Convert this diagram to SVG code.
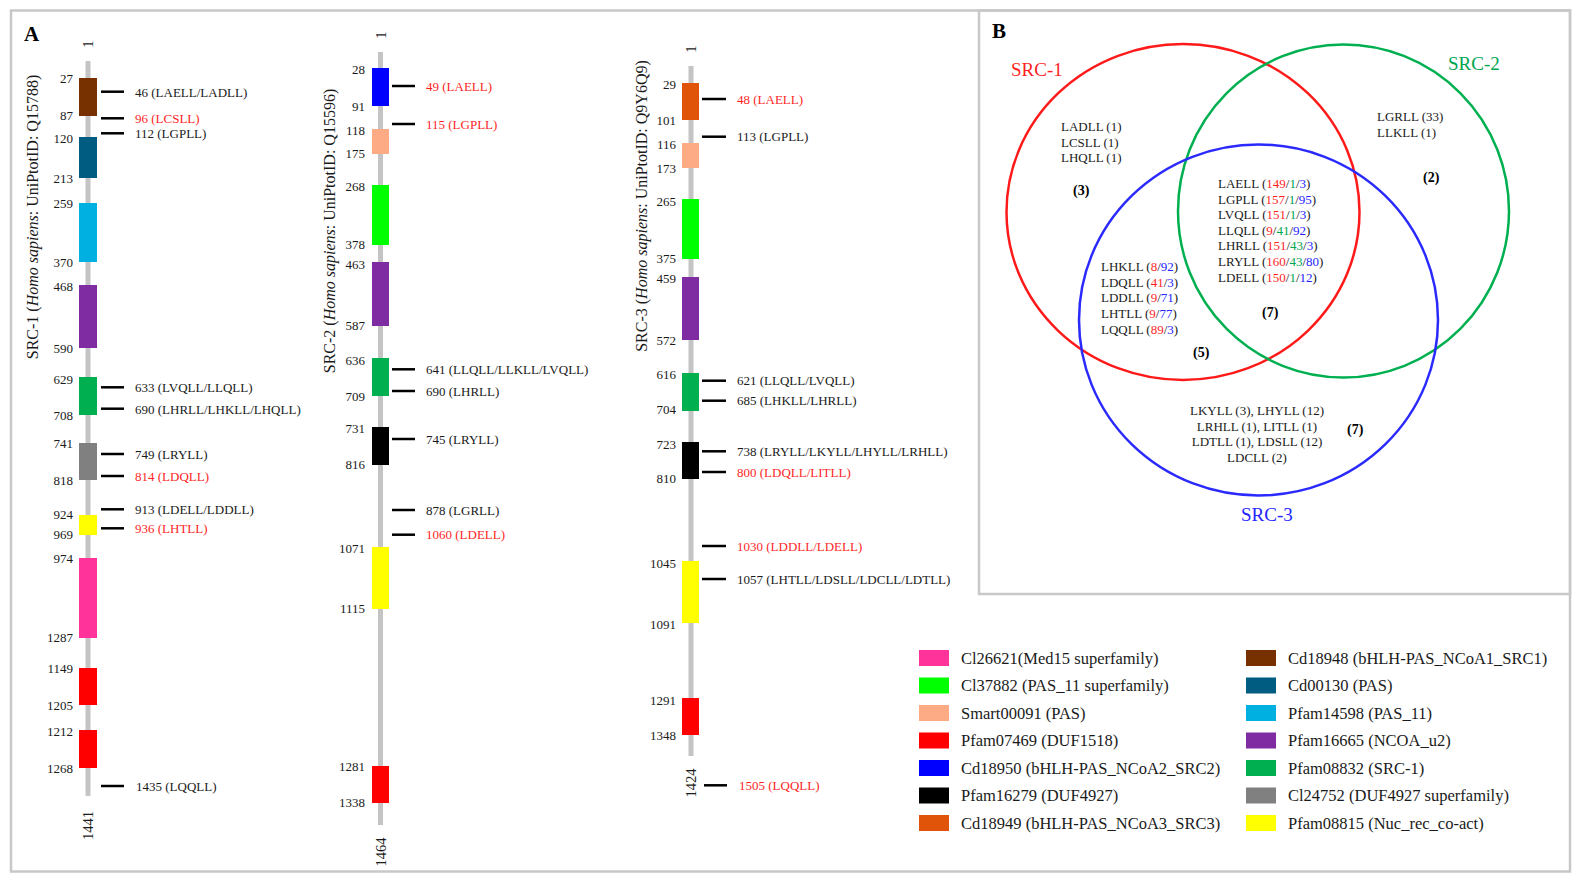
<svg xmlns="http://www.w3.org/2000/svg" width="1580" height="882" viewBox="0 0 1580 882">
<style>
text{font-family:"Liberation Serif","Times New Roman",serif;fill:#1a1a1a}
.num{font-size:13px;text-anchor:end}
.mot{font-size:13px}
.rt{fill:#ff1f1f}
.end{font-size:14.5px;text-anchor:middle;dominant-baseline:central}
.ttl{font-size:16px;text-anchor:middle;dominant-baseline:central}
.bar{stroke:#c4c4c4;stroke-width:5}
.tick{stroke:#000;stroke-width:2.5}
.frame{fill:none;stroke:#c8c8c8;stroke-width:2.5}
.vn{font-size:13px}
.vb{font-size:14px;font-weight:bold;fill:#000}
.r{fill:#ff1f1f}.g{fill:#00a550}.b{fill:#2424ff}
.lg{font-size:16.5px}
.pnl{font-size:21px;font-weight:bold;fill:#000}
.c1{fill:#ff3399}.c2{fill:#00ff00}.c3{fill:#fcab84}.c4{fill:#ff0000}.c5{fill:#0000ff}.c6{fill:#000}.c7{fill:#e0540a}
.c8{fill:#773000}.c9{fill:#005c80}.c10{fill:#00b0e0}.c11{fill:#7f2ca2}.c12{fill:#00b050}.c13{fill:#808080}.c14{fill:#ffff00}
</style>
<rect width="1580" height="882" fill="#fff"/>
<rect class="frame" x="11" y="10.5" width="1559" height="861"/>
<rect class="frame" x="979" y="10.5" width="591" height="583.5"/>
<text class="pnl" x="24" y="41">A</text>
<text class="pnl" x="992" y="38">B</text>

<g id="src1">
<line class="bar" x1="88" y1="61" x2="88" y2="796"/>
<rect class="c8" x="79" y="78" width="18" height="38"/>
<rect class="c9" x="79" y="137" width="18" height="41"/>
<rect class="c10" x="79" y="203" width="18" height="59"/>
<rect class="c11" x="79" y="285" width="18" height="63"/>
<rect class="c12" x="79" y="377" width="18" height="38"/>
<rect class="c13" x="79" y="443" width="18" height="37"/>
<rect class="c14" x="79" y="515" width="18" height="20"/>
<rect class="c1" x="79" y="558" width="18" height="80"/>
<rect class="c4" x="79" y="668" width="18" height="37"/>
<rect class="c4" x="79" y="730" width="18" height="38"/>
<text class="num" x="73" y="83">27</text><text class="num" x="73" y="120">87</text>
<text class="num" x="73" y="142.5">120</text><text class="num" x="73" y="183">213</text>
<text class="num" x="73" y="208">259</text><text class="num" x="73" y="267">370</text>
<text class="num" x="73" y="290.5">468</text><text class="num" x="73" y="353">590</text>
<text class="num" x="73" y="384">629</text><text class="num" x="73" y="420">708</text>
<text class="num" x="73" y="448">741</text><text class="num" x="73" y="485">818</text>
<text class="num" x="73" y="519">924</text><text class="num" x="73" y="539">969</text>
<text class="num" x="73" y="563">974</text><text class="num" x="73" y="642">1287</text>
<text class="num" x="73" y="673">1149</text><text class="num" x="73" y="710">1205</text>
<text class="num" x="73" y="735.5">1212</text><text class="num" x="73" y="773">1268</text>
<text class="end" transform="translate(88,44) rotate(-90)">1</text>
<text class="end" transform="translate(88,825.5) rotate(-90)">1441</text>
<text class="ttl" transform="translate(32,217) rotate(-90)">SRC-1 (<tspan font-style="italic">Homo sapiens</tspan>: UniPtotID: Q15788)</text>
<g id="src1-ticks">
<line class="tick" x1="101" y1="91.7" x2="124" y2="91.7"/>
<line class="tick" x1="101" y1="118.3" x2="124" y2="118.3"/>
<line class="tick" x1="101" y1="133.3" x2="124" y2="133.3"/>
<line class="tick" x1="101" y1="387.3" x2="124" y2="387.3"/>
<line class="tick" x1="101" y1="408.7" x2="124" y2="408.7"/>
<line class="tick" x1="101" y1="454" x2="124" y2="454"/>
<line class="tick" x1="101" y1="476" x2="124" y2="476"/>
<line class="tick" x1="101" y1="509.3" x2="124" y2="509.3"/>
<line class="tick" x1="101" y1="528.3" x2="124" y2="528.3"/>
<line class="tick" x1="101" y1="786" x2="124" y2="786"/>
</g>
<text class="mot" x="135" y="96.5">46 (LAELL/LADLL)</text>
<text class="mot rt" x="135" y="123">96 (LCSLL)</text>
<text class="mot" x="135" y="138">112 (LGPLL)</text>
<text class="mot" x="135" y="392">633 (LVQLL/LLQLL)</text>
<text class="mot" x="135" y="413.5">690 (LHRLL/LHKLL/LHQLL)</text>
<text class="mot" x="135" y="458.5">749 (LRYLL)</text>
<text class="mot rt" x="135" y="480.5">814 (LDQLL)</text>
<text class="mot" x="135" y="514">913 (LDELL/LDDLL)</text>
<text class="mot rt" x="135" y="533">936 (LHTLL)</text>
<text class="mot" x="136" y="790.5">1435 (LQQLL)</text>
</g>

<g id="src2">
<line class="bar" x1="380.5" y1="52" x2="380.5" y2="825"/>
<rect class="c5" x="372" y="68" width="17" height="38"/>
<rect class="c3" x="372" y="129" width="17" height="25"/>
<rect class="c2" x="372" y="185" width="17" height="60"/>
<rect class="c11" x="372" y="262" width="17" height="64"/>
<rect class="c12" x="372" y="358" width="17" height="38"/>
<rect class="c6" x="372" y="427" width="17" height="38"/>
<rect class="c14" x="372" y="547" width="17" height="62"/>
<rect class="c4" x="372" y="766" width="17" height="37"/>
<text class="num" x="365" y="74">28</text><text class="num" x="365" y="110.5">91</text>
<text class="num" x="365" y="135">118</text><text class="num" x="365" y="158">175</text>
<text class="num" x="365" y="191">268</text><text class="num" x="365" y="249">378</text>
<text class="num" x="365" y="269">463</text><text class="num" x="365" y="330">587</text>
<text class="num" x="365" y="365">636</text><text class="num" x="365" y="401">709</text>
<text class="num" x="365" y="433">731</text><text class="num" x="365" y="469">816</text>
<text class="num" x="365" y="552.5">1071</text><text class="num" x="365" y="613">1115</text>
<text class="num" x="365" y="771">1281</text><text class="num" x="365" y="807">1338</text>
<text class="end" transform="translate(381,35) rotate(-90)">1</text>
<text class="end" transform="translate(381,852) rotate(-90)">1464</text>
<text class="ttl" transform="translate(329,231) rotate(-90)">SRC-2 (<tspan font-style="italic">Homo sapiens</tspan>: UniPtotID: Q15596)</text>
<g id="src2-ticks">
<line class="tick" x1="392" y1="86" x2="415" y2="86"/>
<line class="tick" x1="392" y1="124" x2="415" y2="124"/>
<line class="tick" x1="392" y1="369.3" x2="415" y2="369.3"/>
<line class="tick" x1="392" y1="391" x2="415" y2="391"/>
<line class="tick" x1="392" y1="439" x2="415" y2="439"/>
<line class="tick" x1="392" y1="510" x2="415" y2="510"/>
<line class="tick" x1="392" y1="534.7" x2="415" y2="534.7"/>
</g>
<text class="mot rt" x="426" y="90.5">49 (LAELL)</text>
<text class="mot rt" x="426" y="128.5">115 (LGPLL)</text>
<text class="mot" x="426" y="374">641 (LLQLL/LLKLL/LVQLL)</text>
<text class="mot" x="426" y="395.5">690 (LHRLL)</text>
<text class="mot" x="426" y="443.5">745 (LRYLL)</text>
<text class="mot" x="426" y="514.5">878 (LGRLL)</text>
<text class="mot rt" x="426" y="539">1060 (LDELL)</text>
</g>

<g id="src3">
<line class="bar" x1="691" y1="66" x2="691" y2="756"/>
<rect class="c7" x="682" y="83" width="17" height="37"/>
<rect class="c3" x="682" y="143" width="17" height="25"/>
<rect class="c2" x="682" y="199" width="17" height="60"/>
<rect class="c11" x="682" y="277" width="17" height="63"/>
<rect class="c12" x="682" y="373" width="17" height="38"/>
<rect class="c6" x="682" y="442" width="17" height="37"/>
<rect class="c14" x="682" y="561" width="17" height="62"/>
<rect class="c4" x="682" y="698" width="17" height="37"/>
<text class="num" x="676" y="89">29</text><text class="num" x="676" y="125">101</text>
<text class="num" x="676" y="149">116</text><text class="num" x="676" y="172.5">173</text>
<text class="num" x="676" y="206">265</text><text class="num" x="676" y="263">375</text>
<text class="num" x="676" y="283">459</text><text class="num" x="676" y="345">572</text>
<text class="num" x="676" y="379">616</text><text class="num" x="676" y="414">704</text>
<text class="num" x="676" y="448.5">723</text><text class="num" x="676" y="483">810</text>
<text class="num" x="676" y="568">1045</text><text class="num" x="676" y="629">1091</text>
<text class="num" x="676" y="705">1291</text><text class="num" x="676" y="740">1348</text>
<text class="end" transform="translate(691,49) rotate(-90)">1</text>
<text class="end" transform="translate(691,783) rotate(-90)">1424</text>
<text class="ttl" transform="translate(641,206) rotate(-90)">SRC-3 (<tspan font-style="italic">Homo sapiens</tspan>: UniPtotID: Q9Y6Q9)</text>
<g id="src3-ticks">
<line class="tick" x1="702" y1="99" x2="726" y2="99"/>
<line class="tick" x1="702" y1="136.7" x2="726" y2="136.7"/>
<line class="tick" x1="702" y1="380.7" x2="726" y2="380.7"/>
<line class="tick" x1="702" y1="400.7" x2="726" y2="400.7"/>
<line class="tick" x1="702" y1="451.3" x2="726" y2="451.3"/>
<line class="tick" x1="702" y1="472" x2="726" y2="472"/>
<line class="tick" x1="702" y1="546" x2="726" y2="546"/>
<line class="tick" x1="702" y1="579" x2="726" y2="579"/>
<line class="tick" x1="704" y1="785.3" x2="727" y2="785.3"/>
</g>
<text class="mot rt" x="737" y="103.5">48 (LAELL)</text>
<text class="mot" x="737" y="141">113 (LGPLL)</text>
<text class="mot" x="737" y="385">621 (LLQLL/LVQLL)</text>
<text class="mot" x="737" y="405">685 (LHKLL/LHRLL)</text>
<text class="mot" x="737" y="456">738 (LRYLL/LKYLL/LHYLL/LRHLL)</text>
<text class="mot rt" x="737" y="476.5">800 (LDQLL/LITLL)</text>
<text class="mot rt" x="737" y="550.5">1030 (LDDLL/LDELL)</text>
<text class="mot" x="737" y="583.5">1057 (LHTLL/LDSLL/LDCLL/LDTLL)</text>
<text class="mot rt" x="739" y="790">1505 (LQQLL)</text>
</g>

<g id="venn">
<ellipse cx="1183" cy="212" rx="176.5" ry="168" fill="none" stroke="#ff1a1a" stroke-width="2.5"/>
<ellipse cx="1343.5" cy="211" rx="165.5" ry="166.5" fill="none" stroke="#00b050" stroke-width="2.5"/>
<ellipse cx="1258.5" cy="320" rx="179.5" ry="175.5" fill="none" stroke="#2a2aff" stroke-width="2.5"/>
<text x="1011" y="76" font-size="19" class="r">SRC-1</text>
<text x="1448" y="70" font-size="19" class="g">SRC-2</text>
<text x="1241" y="521" font-size="19" class="b">SRC-3</text>
<text class="vn" x="1061" y="131">LADLL (1)</text>
<text class="vn" x="1061" y="146.5">LCSLL (1)</text>
<text class="vn" x="1061" y="162">LHQLL (1)</text>
<text class="vb" x="1073" y="195">(3)</text>
<text class="vn" x="1377" y="121">LGRLL (33)</text>
<text class="vn" x="1377" y="136.5">LLKLL (1)</text>
<text class="vb" x="1423" y="182">(2)</text>
<text class="vn" x="1218" y="188">LAELL (<tspan class="r">149</tspan>/<tspan class="g">1</tspan>/<tspan class="b">3</tspan>)</text>
<text class="vn" x="1218" y="203.6">LGPLL (<tspan class="r">157</tspan>/<tspan class="g">1</tspan>/<tspan class="b">95</tspan>)</text>
<text class="vn" x="1218" y="219.2">LVQLL (<tspan class="r">151</tspan>/<tspan class="g">1</tspan>/<tspan class="b">3</tspan>)</text>
<text class="vn" x="1218" y="234.8">LLQLL (<tspan class="r">9</tspan>/<tspan class="g">41</tspan>/<tspan class="b">92</tspan>)</text>
<text class="vn" x="1218" y="250.4">LHRLL (<tspan class="r">151</tspan>/<tspan class="g">43</tspan>/<tspan class="b">3</tspan>)</text>
<text class="vn" x="1218" y="266">LRYLL (<tspan class="r">160</tspan>/<tspan class="g">43</tspan>/<tspan class="b">80</tspan>)</text>
<text class="vn" x="1218" y="281.6">LDELL (<tspan class="r">150</tspan>/<tspan class="g">1</tspan>/<tspan class="b">12</tspan>)</text>
<text class="vb" x="1262" y="317">(7)</text>
<text class="vn" x="1101" y="271">LHKLL (<tspan class="r">8</tspan>/<tspan class="b">92</tspan>)</text>
<text class="vn" x="1101" y="286.7">LDQLL (<tspan class="r">41</tspan>/<tspan class="b">3</tspan>)</text>
<text class="vn" x="1101" y="302.4">LDDLL (<tspan class="r">9</tspan>/<tspan class="b">71</tspan>)</text>
<text class="vn" x="1101" y="318.1">LHTLL (<tspan class="r">9</tspan>/<tspan class="b">77</tspan>)</text>
<text class="vn" x="1101" y="333.8">LQQLL (<tspan class="r">89</tspan>/<tspan class="b">3</tspan>)</text>
<text class="vb" x="1193" y="357">(5)</text>
<text class="vn" x="1257" y="415" text-anchor="middle">LKYLL (3), LHYLL (12)</text>
<text class="vn" x="1257" y="430.6" text-anchor="middle">LRHLL (1), LITLL (1)</text>
<text class="vn" x="1257" y="446.2" text-anchor="middle">LDTLL (1), LDSLL (12)</text>
<text class="vn" x="1257" y="461.8" text-anchor="middle">LDCLL (2)</text>
<text class="vb" x="1347" y="434">(7)</text>
</g>

<g id="legend">
<rect class="c1" x="919" y="650" width="30" height="16"/>
<rect class="c2" x="919" y="677.5" width="30" height="16"/>
<rect class="c3" x="919" y="705" width="30" height="16"/>
<rect class="c4" x="919" y="732.5" width="30" height="16"/>
<rect class="c5" x="919" y="760" width="30" height="16"/>
<rect class="c6" x="919" y="787.5" width="30" height="16"/>
<rect class="c7" x="919" y="815" width="30" height="16"/>
<text class="lg" x="961" y="663.5">Cl26621(Med15 superfamily)</text>
<text class="lg" x="961" y="691">Cl37882 (PAS_11 superfamily)</text>
<text class="lg" x="961" y="718.5">Smart00091 (PAS)</text>
<text class="lg" x="961" y="746">Pfam07469 (DUF1518)</text>
<text class="lg" x="961" y="773.5">Cd18950 (bHLH-PAS_NCoA2_SRC2)</text>
<text class="lg" x="961" y="801">Pfam16279 (DUF4927)</text>
<text class="lg" x="961" y="828.5">Cd18949 (bHLH-PAS_NCoA3_SRC3)</text>
<rect class="c8" x="1246" y="650" width="30" height="16"/>
<rect class="c9" x="1246" y="677.5" width="30" height="16"/>
<rect class="c10" x="1246" y="705" width="30" height="16"/>
<rect class="c11" x="1246" y="732.5" width="30" height="16"/>
<rect class="c12" x="1246" y="760" width="30" height="16"/>
<rect class="c13" x="1246" y="787.5" width="30" height="16"/>
<rect class="c14" x="1246" y="815" width="30" height="16"/>
<text class="lg" x="1288" y="663.5">Cd18948 (bHLH-PAS_NCoA1_SRC1)</text>
<text class="lg" x="1288" y="691">Cd00130 (PAS)</text>
<text class="lg" x="1288" y="718.5">Pfam14598 (PAS_11)</text>
<text class="lg" x="1288" y="746">Pfam16665 (NCOA_u2)</text>
<text class="lg" x="1288" y="773.5">Pfam08832 (SRC-1)</text>
<text class="lg" x="1288" y="801">Cl24752 (DUF4927 superfamily)</text>
<text class="lg" x="1288" y="828.5">Pfam08815 (Nuc_rec_co-act)</text>
</g>
</svg>
